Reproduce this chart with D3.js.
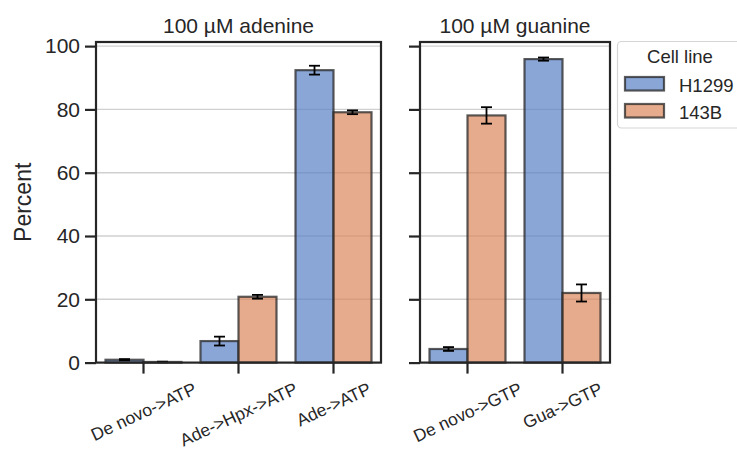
<!DOCTYPE html>
<meta charset="utf-8">
<style>
body { margin: 0; background: #fff; }
text { font-family: Arial, "Liberation Sans", sans-serif; fill: #262626; }
</style>
<svg width="737" height="450"></svg>
<script src="https://cdn.jsdelivr.net/npm/d3@7"></script>
<script>

var hues = ["H1299", "143B"];
var hueColours = ["#5880c4", "#da885b"];

var adenineCats = ["De novo->ATP", "Ade->Hpx->ATP", "Ade->ATP"];
var adenineMean = { "H1299": [0.9, 6.8, 92.4], "143B": [0.2, 20.8, 79.1] };
var adenineErr  = { "H1299": [0.2, 1.4, 1.4],  "143B": [0.1, 0.6, 0.6] };

var guanineCats = ["De novo->GTP", "Gua->GTP"];
var guanineMean = { "H1299": [4.3, 95.9], "143B": [78.1, 22.0] };
var guanineErr  = { "H1299": [0.6, 0.5],  "143B": [2.6, 2.7] };

var yTicks = [0, 20, 40, 60, 80, 100];

var svg = d3.select("svg");

var top_y = 42, bottom_y = 362.6;
var y = d3.scaleLinear().domain([0, 101.3]).range([bottom_y, top_y]);
var fillAlpha = 0.7;

function panel(x0, x1, cats, means, errs, title, showLabels) {
        var x = d3.scaleBand().domain(cats).range([x0, x1]);
        var bw = x.bandwidth() * 0.4;
        var g = svg.append("g");

        // grid
        g.selectAll(".grid").data(yTicks).enter().append("line")
                .attr("x1", x0).attr("x2", x1)
                .attr("y1", d => y(d)).attr("y2", d => y(d))
                .attr("stroke", "#d0d0d0").attr("stroke-width", 1.4);

        hues.forEach(function(h, hi) {
                var rows = cats.map((c, i) => ({ c: c, v: means[h][i], e: errs[h][i] }));
                g.selectAll(".bar" + hi).data(rows).enter().append("rect")
                        .attr("x", d => x(d.c) + x.bandwidth() * 0.1 + hi * bw)
                        .attr("y", d => y(d.v))
                        .attr("width", bw)
                        .attr("height", d => y(0) - y(d.v))
                        .attr("fill", hueColours[hi])
                        .attr("fill-opacity", fillAlpha)
                        .attr("stroke", "#262626")
                        .attr("stroke-opacity", 0.75)
                        .attr("stroke-width", 2.2);
                rows.forEach(function(d) {
                        var cx = x(d.c) + x.bandwidth() * 0.1 + hi * bw + bw / 2;
                        var lo = y(d.v - d.e), hiY = y(d.v + d.e);
                        g.append("line").attr("x1", cx).attr("x2", cx).attr("y1", lo).attr("y2", hiY)
                                .attr("stroke", "#000").attr("stroke-width", 1.8);
                        [lo, hiY].forEach(function(yy) {
                                g.append("line").attr("x1", cx - 5.5).attr("x2", cx + 5.5).attr("y1", yy).attr("y2", yy)
                                        .attr("stroke", "#000").attr("stroke-width", 1.8);
                        });
                });
        });

        // frame
        g.append("rect").attr("x", x0).attr("y", top_y).attr("width", x1 - x0).attr("height", bottom_y - top_y)
                .attr("fill", "none").attr("stroke", "#262626").attr("stroke-width", 2.2);

        // y axis
        var ya = g.append("g").attr("transform", "translate(" + x0 + ",0)")
                .call(d3.axisLeft(y).tickValues(yTicks).tickSize(11).tickPadding(5)
                        .tickFormat(showLabels ? d3.format("d") : ""));
        ya.select(".domain").remove();
        ya.selectAll("line").attr("stroke", "#262626").attr("stroke-width", 2.2);
        ya.selectAll("text").style("font-size", "21px").attr("fill", "#262626");

        // x axis, rotated labels centred on the tick, top of the rotated box fixed
        var xa = g.append("g").attr("transform", "translate(0," + bottom_y + ")")
                .call(d3.axisBottom(x).tickSize(11));
        xa.select(".domain").remove();
        xa.selectAll("line").attr("stroke", "#262626").attr("stroke-width", 2.2);
        var fs = 17.5, ang = 25, rad = ang * Math.PI / 180;
        xa.selectAll("text")
                .style("font-size", fs + "px")
                .attr("fill", "#262626")
                .attr("text-anchor", "middle")
                .attr("dy", "0.36em")
                .attr("y", 0).attr("x", 0)
                .attr("transform", function() {
                        var w = this.getComputedTextLength();
                        var off = w / 2 * Math.sin(rad) + 0.36 * fs * Math.cos(rad);
                        return "translate(0," + (19 + off) + ") rotate(" + (-ang) + ")";
                });

        g.append("text").attr("x", (x0 + x1) / 2).attr("y", 33)
                .attr("text-anchor", "middle").style("font-size", "21px")
                .text(title);
}

panel(96, 381, adenineCats, adenineMean, adenineErr, "100 \u00b5M adenine", true);
panel(420, 610, guanineCats, guanineMean, guanineErr, "100 \u00b5M guanine", false);

svg.append("text")
        .attr("transform", "translate(31," + ((top_y + bottom_y) / 2) + ") rotate(-90)")
        .attr("text-anchor", "middle").style("font-size", "23px")
        .text("Percent");

// legend
var lg = svg.append("g");
lg.append("rect").attr("x", 617.5).attr("y", 41.5).attr("width", 130).attr("height", 86.5)
        .attr("rx", 4).attr("fill", "#fff").attr("stroke", "#d5d5d5").attr("stroke-width", 1.2);
lg.append("text").attr("x", 680).attr("y", 63).attr("text-anchor", "middle")
        .style("font-size", "18.5px").text("Cell line");
hues.forEach(function(h, i) {
        var yy = 77 + i * 27;
        lg.append("rect").attr("x", 625).attr("y", yy).attr("width", 39).attr("height", 13.5)
                .attr("fill", hueColours[i]).attr("fill-opacity", fillAlpha)
                .attr("stroke", "#262626").attr("stroke-opacity", 0.75).attr("stroke-width", 2.2);
        lg.append("text").attr("x", 679).attr("y", yy + 14.5).style("font-size", "18.5px").text(h);
});

</script>
